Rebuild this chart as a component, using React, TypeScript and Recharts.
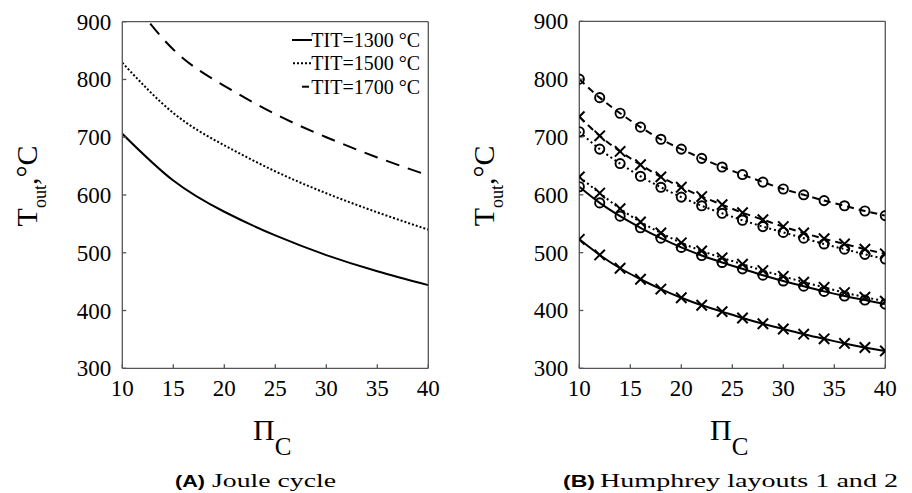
import React from 'react';
import { LineChart, Line, XAxis, YAxis, Legend } from 'recharts';

// ---------- Data: (A) Joule cycle ----------
const piJoule = [10, 15, 20, 25, 30, 35, 40];
const joule1300 = [706, 625, 571, 530, 496, 468, 444];
const joule1500 = [829, 742, 686, 641, 603, 570, 540];
const joule1700 = [960, 852, 789, 740, 700, 665, 634];
const jouleLegend = ['TIT=1300 °C', 'TIT=1500 °C', 'TIT=1700 °C'];

// ---------- Data: (B) Humphrey layouts 1 and 2 ----------
const piHump = [10, 12, 14, 16, 18, 20, 22, 24, 26, 28, 30, 32, 34, 36, 38, 40];
const humpDashedO = [800, 768, 741, 717, 696, 679, 663, 648, 635, 622, 610, 600, 590, 581, 572, 564];
const humpDashedX = [735, 702, 675, 652, 631, 613, 597, 583, 569, 557, 545, 534, 524, 515, 506, 498];
const humpDottedO = [709, 679, 654, 632, 613, 596, 581, 568, 556, 545, 535, 525, 515, 506, 497, 489];
const humpDottedX = [631, 603, 576, 553, 534, 517, 503, 491, 480, 469, 459, 449, 440, 431, 423, 416];
const humpSolidO = [614, 586, 563, 543, 525, 509, 495, 483, 472, 461, 451, 442, 433, 425, 418, 411];
const humpSolidX = [523, 496, 473, 454, 437, 422, 409, 398, 387, 377, 368, 359, 351, 343, 336, 330];

// ---------- Ticks & labels ----------
const xTicks = [10, 15, 20, 25, 30, 35, 40];
const yTicks = [300, 400, 500, 600, 700, 800, 900];
const captionA = ['(A)', 'Joule cycle'];
const captionB = ['(B)', 'Humphrey layouts 1 and 2'];

const jouleData = piJoule.map((p, i) => ({
  pi: p,
  t1300: joule1300[i],
  t1500: joule1500[i],
  t1700: joule1700[i],
}));

const humpData = piHump.map((p, i) => ({
  pi: p,
  dashO: humpDashedO[i],
  dashX: humpDashedX[i],
  dotO: humpDottedO[i],
  dotX: humpDottedX[i],
  solO: humpSolidO[i],
  solX: humpSolidX[i],
}));

const SERIF = '"Liberation Serif", "Times New Roman", serif';
const INK = '#000';
const AXIS = '#555';
const CW = 440;
const CH = 493;
const MARGIN = { top: 20.7, right: 10.7, left: 0, bottom: 44.7 };

const XTick = (p: any) => (
  <text x={p.x} y={p.y + 15} textAnchor="middle" fontFamily={SERIF} fontSize={23} fill={INK}>
    {p.payload.value}
  </text>
);
const YTick = (p: any) => (
  <text x={p.x} y={p.y + 8} textAnchor="end" fontFamily={SERIF} fontSize={23} fill={INK}>
    {p.payload.value}
  </text>
);

const XLabel = (props: any) => {
  const vb = props.viewBox || {};
  const cx = vb.x + vb.width / 2 - 3;
  return (
    <text x={cx} y={vb.y + 71.7} textAnchor="middle" fontFamily={SERIF} fill={INK}>
      <tspan fontSize={30}>Π</tspan>
      <tspan fontSize={25} dy={15}>C</tspan>
    </text>
  );
};

const YLabel = (props: any) => {
  const vb = props.viewBox || {};
  const x = vb.x + vb.width - 85;
  const y = vb.y + vb.height / 2 - 9;
  return (
    <text transform={`translate(${x},${y}) rotate(-90)`} textAnchor="middle" fontFamily={SERIF} fontSize={30} fill={INK}>
      T<tspan fontSize={18} dy={9}>out</tspan>
      <tspan dy={-9}>,°C</tspan>
    </text>
  );
};

const Circ = (p: any) => (
  <circle key={`c${p.index}`} cx={p.cx} cy={p.cy} r={4.6} fill="none" stroke={INK} strokeWidth={1.9} />
);
const Cross = (p: any) => {
  const s = 5.2;
  return (
    <path
      key={`x${p.index}`}
      d={`M${p.cx - s},${p.cy - s}L${p.cx + s},${p.cy + s}M${p.cx - s},${p.cy + s}L${p.cx + s},${p.cy - s}`}
      stroke={INK}
      strokeWidth={2}
      fill="none"
    />
  );
};

const JouleLegend = () => {
  const rows = [15, 38.3, 61.7];
  return (
    <svg width={140} height={74} style={{ overflow: 'visible' }}>
      <line x1={7} x2={27} y1={rows[0]} y2={rows[0]} stroke={INK} strokeWidth={2} />
      <line x1={8} x2={27} y1={rows[1]} y2={rows[1]} stroke={INK} strokeWidth={2} strokeDasharray="2 2" />
      <line x1={17} x2={24} y1={rows[2]} y2={rows[2]} stroke={INK} strokeWidth={2} />
      {jouleLegend.map((t, i) => (
        <text key={t} x={135} y={rows[i] + 7} textAnchor="end" fontFamily={SERIF} fontSize={20} fill={INK}>
          {t}
        </text>
      ))}
    </svg>
  );
};

function axes() {
  return [
    <XAxis
      key="xb"
      dataKey="pi"
      type="number"
      domain={[10, 40]}
      ticks={xTicks}
      height={80}
      tickSize={-4}
      tickMargin={17}
      tick={XTick}
      axisLine={{ stroke: AXIS, strokeWidth: 1.3 }}
      tickLine={{ stroke: AXIS, strokeWidth: 1.3 }}
      label={XLabel}
      allowDataOverflow
    />,
    <XAxis
      key="xt"
      xAxisId="top"
      orientation="top"
      dataKey="pi"
      type="number"
      domain={[10, 40]}
      ticks={xTicks}
      height={1}
      tickSize={-4}
      tick={false}
      axisLine={{ stroke: AXIS, strokeWidth: 1.3 }}
      tickLine={{ stroke: AXIS, strokeWidth: 1.3 }}
    />,
    <YAxis
      key="yl"
      type="number"
      domain={[300, 900]}
      ticks={yTicks}
      width={122.3}
      tickSize={-4}
      tickMargin={15}
      tick={YTick}
      axisLine={{ stroke: AXIS, strokeWidth: 1.3 }}
      tickLine={{ stroke: AXIS, strokeWidth: 1.3 }}
      label={YLabel}
      allowDataOverflow
    />,
    <YAxis
      key="yr"
      yAxisId="right"
      orientation="right"
      type="number"
      domain={[300, 900]}
      ticks={yTicks}
      width={1}
      tickSize={-4}
      tick={false}
      axisLine={{ stroke: AXIS, strokeWidth: 1.3 }}
      tickLine={{ stroke: AXIS, strokeWidth: 1.3 }}
    />,
  ];
}

export default function App() {
  return (
    <div style={{ position: 'absolute', left: 0, top: 0, width: 912, height: 493, background: '#fff', overflow: 'hidden' }}>
      <div style={{ position: 'absolute', left: 0, top: 0 }}>
        <LineChart width={CW} height={CH} data={jouleData} margin={MARGIN}>
          {axes()}
          <Line type="natural" dataKey="t1300" stroke={INK} strokeWidth={2} dot={false} isAnimationActive={false} />
          <Line type="natural" dataKey="t1500" stroke={INK} strokeWidth={2} strokeDasharray="2 2" dot={false} isAnimationActive={false} />
          <Line type="natural" dataKey="t1700" stroke={INK} strokeWidth={2} strokeDasharray="14 9" dot={false} isAnimationActive={false} />
          <Legend
            layout="vertical"
            align="center"
            verticalAlign="middle"
            content={JouleLegend}
            wrapperStyle={{ left: 285, top: 25, width: 140, height: 74 }}
          />
        </LineChart>
      </div>
      <div style={{ position: 'absolute', left: 456.7, top: 0 }}>
        <LineChart width={CW} height={CH} data={humpData} margin={{ ...MARGIN, top: 20.3 }}>
          {axes()}
          <Line type="monotone" dataKey="dashO" stroke={INK} strokeWidth={2} strokeDasharray="7 5" dot={Circ} isAnimationActive={false} />
          <Line type="monotone" dataKey="dashX" stroke={INK} strokeWidth={2} strokeDasharray="7 5" dot={Cross} isAnimationActive={false} />
          <Line type="monotone" dataKey="dotO" stroke={INK} strokeWidth={2} strokeDasharray="2 3" dot={Circ} isAnimationActive={false} />
          <Line type="monotone" dataKey="dotX" stroke={INK} strokeWidth={2} strokeDasharray="2 3" dot={Cross} isAnimationActive={false} />
          <Line type="monotone" dataKey="solO" stroke={INK} strokeWidth={2} dot={Circ} isAnimationActive={false} />
          <Line type="monotone" dataKey="solX" stroke={INK} strokeWidth={2} dot={Cross} isAnimationActive={false} />
        </LineChart>
      </div>
      <svg width={912} height={493} style={{ position: 'absolute', left: 0, top: 0, pointerEvents: 'none' }}>
        <text x={175} y={487} fontFamily='"Liberation Sans", Arial, sans-serif' fontWeight="bold" fontSize={17} fill={INK} textLength={30} lengthAdjust="spacingAndGlyphs">
          {captionA[0]}
        </text>
        <text x={212} y={487} fontFamily={SERIF} fontSize={18} fill={INK} textLength={124} lengthAdjust="spacingAndGlyphs">
          {captionA[1]}
        </text>
        <text x={563} y={487} fontFamily='"Liberation Sans", Arial, sans-serif' fontWeight="bold" fontSize={17} fill={INK} textLength={32} lengthAdjust="spacingAndGlyphs">
          {captionB[0]}
        </text>
        <text x={600} y={487} fontFamily={SERIF} fontSize={18} fill={INK} textLength={298} lengthAdjust="spacingAndGlyphs">
          {captionB[1]}
        </text>
      </svg>
    </div>
  );
}
